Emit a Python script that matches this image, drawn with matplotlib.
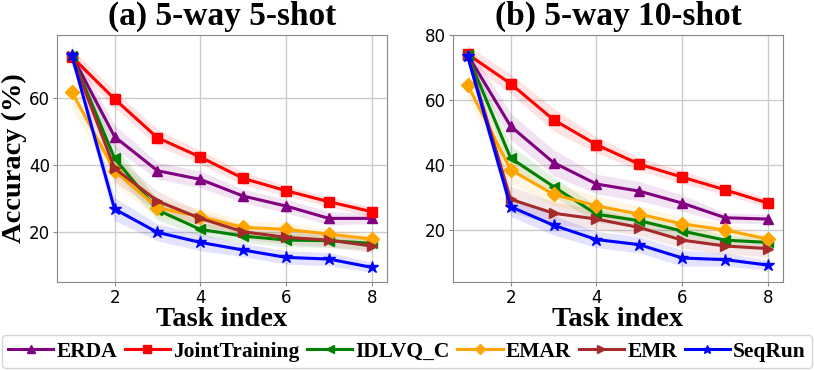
import matplotlib
matplotlib.use("Agg")
import matplotlib.pyplot as plt
import numpy as np

# task index on x axis
tasks = [1, 2, 3, 4, 5, 6, 7, 8]

methods = ["ERDA", "JointTraining", "IDLVQ_C", "EMAR", "EMR", "SeqRun"]
colors = ["purple", "red", "green", "orange", "brown", "blue"]
markers = ["^", "s", "<", "D", ">", "*"]

# (a) 5-way 5-shot
acc_5shot = {
    "ERDA":          [73.0, 48.5, 38.3, 35.7, 30.7, 27.7, 24.0, 24.0],
    "JointTraining": [72.5, 59.8, 48.2, 42.4, 36.0, 32.3, 29.0, 26.0],
    "IDLVQ_C":       [72.8, 42.0, 26.5, 20.7, 18.7, 17.5, 17.3, 16.5],
    "EMAR":          [62.0, 38.3, 27.2, 24.5, 21.3, 20.7, 19.3, 17.8],
    "EMR":           [72.8, 39.0, 29.2, 24.0, 20.0, 18.3, 17.5, 15.7],
    "SeqRun":        [73.0, 26.8, 19.8, 16.8, 14.5, 12.3, 11.8, 9.3],
}
std_5shot = {
    "ERDA":          [3.0, 3.5, 2.5, 2.5, 2.0, 2.0, 2.0, 1.5],
    "JointTraining": [2.5, 2.5, 2.5, 2.0, 2.0, 1.5, 1.5, 1.5],
    "IDLVQ_C":       [2.0, 4.0, 3.0, 2.0, 2.0, 2.0, 2.0, 2.0],
    "EMAR":          [5.0, 4.0, 3.0, 2.5, 2.0, 2.0, 1.5, 1.5],
    "EMR":           [2.0, 4.0, 3.0, 2.0, 2.0, 2.0, 2.0, 2.0],
    "SeqRun":        [2.0, 3.5, 2.5, 2.5, 2.0, 2.0, 2.0, 1.5],
}

# (b) 5-way 10-shot
acc_10shot = {
    "ERDA":          [74.0, 52.0, 40.8, 34.2, 32.0, 28.3, 23.8, 23.4],
    "JointTraining": [74.2, 65.1, 54.0, 46.3, 40.3, 36.3, 32.4, 28.3],
    "IDLVQ_C":       [73.8, 42.2, 33.4, 24.9, 22.9, 19.7, 16.9, 16.2],
    "EMAR":          [64.7, 38.6, 31.0, 27.5, 24.9, 21.9, 20.0, 17.2],
    "EMR":           [73.8, 29.5, 25.2, 23.4, 20.8, 16.9, 15.1, 14.3],
    "SeqRun":        [73.5, 27.2, 21.5, 17.1, 15.5, 11.4, 10.9, 9.2],
}
std_10shot = {
    "ERDA":          [3.0, 4.0, 4.0, 3.0, 3.0, 2.5, 1.5, 1.5],
    "JointTraining": [2.5, 3.0, 3.5, 2.5, 2.0, 2.0, 1.5, 1.5],
    "IDLVQ_C":       [2.0, 4.0, 3.0, 2.5, 2.0, 2.0, 1.5, 1.5],
    "EMAR":          [4.0, 4.0, 3.5, 3.0, 2.5, 2.0, 2.0, 1.5],
    "EMR":           [2.0, 4.0, 3.5, 3.0, 2.5, 2.5, 2.5, 2.5],
    "SeqRun":        [2.0, 3.0, 3.0, 2.5, 2.5, 2.5, 2.0, 1.5],
}

titles = ["(a) 5-way 5-shot", "(b) 5-way 10-shot"]
ylims = [(5, 79.1), (4.1, 80.2)]

serif_bold = {"family": "Liberation Serif", "weight": "bold"}

fig = plt.figure(figsize=(8.14, 3.7), dpi=100)
ax1 = fig.add_axes([0.0697, 0.2386, 0.4054, 0.6676])
ax2 = fig.add_axes([0.5561, 0.2386, 0.4061, 0.6676])

for ax, acc, std, title, yl in zip([ax1, ax2], [acc_5shot, acc_10shot],
                                   [std_5shot, std_10shot], titles, ylims):
    for m, c, mk in zip(methods, colors, markers):
        mean = np.array(acc[m])
        s = np.array(std[m])
        ms = 9 if mk == "*" else 7.5
        ax.plot(tasks, mean, color=c, marker=mk, lw=2.2, markersize=ms, label=m)
        ax.fill_between(tasks, mean - s, mean + s, color=c, alpha=0.11, lw=0)
    ax.set_xlim(0.65, 8.35)
    ax.set_ylim(*yl)
    ax.set_xticks([2, 4, 6, 8])
    ax.grid(True, color="#cccccc", lw=1)
    ax.set_axisbelow(True)
    for sp in ax.spines.values():
        sp.set_color("#888888")
    ax.tick_params(labelsize=12, color="#888888", length=3, pad=2)
    ax.set_title(title, fontsize=24, pad=7, **serif_bold)
    ax.set_xlabel("Task index", fontsize=20.5, labelpad=0, **serif_bold)

ax1.set_ylabel("Accuracy (%)", fontsize=20.5, **serif_bold)
ax1.yaxis.set_label_coords(-0.09, 0.5)

handles, labels = ax1.get_legend_handles_labels()
leg = fig.legend(handles, labels, loc="lower center", bbox_to_anchor=(0.5, 0.005),
                 ncol=6, prop={"family": "Liberation Serif", "weight": "bold", "size": 15.5},
                 handlelength=2.1, handletextpad=0.15, columnspacing=0.35,
                 borderpad=0.3, borderaxespad=0, markerscale=0.7, frameon=True)
leg.get_frame().set_edgecolor("#cccccc")

fig.savefig("out.png", dpi=100)
